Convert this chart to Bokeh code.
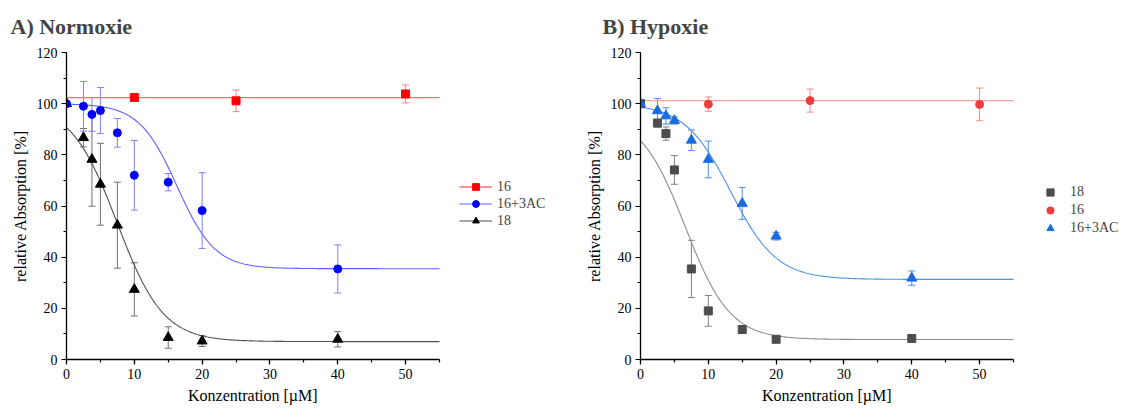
import numpy as np
from bokeh.plotting import figure
from bokeh.models import (ColumnDataSource, Whisker, TeeHead, Legend, LegendItem,
                          SingleIntervalTicker, Range1d, Title)
from bokeh.layouts import row
from bokeh.embed import file_html
from bokeh.resources import INLINE

# ---------------- Panel A: Normoxie ----------------
A_x16 = [10, 25, 50]
A_y16 = [102.4, 101.1, 103.8]
A_e16 = [0.6, 4.2, 3.5]

A_x16ac = [0, 2.5, 3.75, 5, 7.5, 10, 15, 20, 40]
A_y16ac = [100.0, 99.0, 95.8, 97.3, 88.6, 72.0, 69.3, 58.2, 35.4]
A_e16ac = [0, 9.7, 6.6, 9.0, 5.6, 13.6, 3.4, 14.8, 9.4]

A_x18 = [0, 2.5, 3.75, 5, 7.5, 10, 15, 20, 40]
A_y18 = [100.0, 86.7, 78.2, 68.5, 52.5, 27.4, 8.6, 7.2, 7.9]
A_e18 = [0, 3.6, 18.3, 16.0, 16.8, 10.4, 4.2, 2.1, 3.0]

# fitted curves (Boltzmann): top, bottom, x0, dx ; constant fit for 16
A_fit16_level = 102.4
A_fit16ac = [100.0, 35.5, 16.3, 2.8]
A_fit18 = [100.0, 7.0, 7.46, 3.4]

# ---------------- Panel B: Hypoxie ----------------
B_x18 = [0, 2.5, 3.75, 5, 7.5, 10, 15, 20, 40]
B_y18 = [100.0, 92.4, 88.3, 74.1, 35.4, 19.0, 11.7, 7.9, 8.2]
B_e18 = [0, 1.5, 2.6, 5.6, 11.2, 6.0, 1.5, 0.8, 1.2]

B_x16 = [10, 25, 50]
B_y16 = [99.8, 101.2, 99.7]
B_e16 = [2.8, 4.5, 6.4]

B_x16ac = [0, 2.5, 3.75, 5, 7.5, 10, 15, 20, 40]
B_y16ac = [100.0, 97.2, 95.2, 93.4, 85.7, 78.2, 61.0, 48.2, 31.8]
B_e16ac = [0, 4.8, 3.2, 1.4, 4.0, 7.2, 6.2, 1.5, 2.8]

B_fit16_level = 101.2
B_fit18 = [96.0, 7.8, 6.6, 3.3]
B_fit16ac = [100.0, 31.3, 13.3, 3.4]

X_MAX = 55
Y_MAX = 120
X_LABEL = "Konzentration [µM]"
Y_LABEL = "relative Absorption [%]"
FONT = "Liberation Serif"
XFIT = np.linspace(0, X_MAX, 400)
AXIS_W = 373          # pixel length of the drawn x axis (0..55)


def boltzmann(x, params):
    top, bottom, x0, dx = params
    return bottom + (top - bottom) / (1.0 + np.exp((x - x0) / dx))


def make_fig(width, bl, title, title_offset):
    # the frame extends to the right edge so the legend (drawn in the frame) is not clipped;
    # the x axis itself is bounded to 0..55
    frame_w = width - bl
    x_end = X_MAX * frame_w / AXIS_W
    p = figure(width=width, height=411, x_range=Range1d(0, x_end), y_range=Range1d(0, Y_MAX),
               output_backend="svg", toolbar_location=None,
               min_border_left=bl, min_border_right=0, min_border_top=52, min_border_bottom=52)
    p.title.text = title
    p.title.text_font = FONT
    p.title.text_font_size = "22px"
    p.title.text_font_style = "bold"
    p.title.align = "left"
    p.title.offset = title_offset
    p.title.vertical_align = "top"
    p.title.standoff = 23
    p.outline_line_color = None
    p.grid.visible = False
    p.background_fill_color = "white"
    p.border_fill_color = "white"
    p.xaxis.ticker = SingleIntervalTicker(interval=10, num_minor_ticks=2)
    p.yaxis.ticker = SingleIntervalTicker(interval=20, num_minor_ticks=2)
    p.xaxis.bounds = (0, X_MAX)
    for ax in (p.xaxis, p.yaxis):
        ax.axis_line_color = "black"
        ax.axis_line_width = 1.3
        ax.major_tick_line_color = "black"
        ax.minor_tick_line_color = "black"
        ax.major_tick_line_width = 1.2
        ax.minor_tick_line_width = 1.2
        ax.major_tick_out = 5
        ax.major_tick_in = 0
        ax.minor_tick_out = 3
        ax.minor_tick_in = 0
        ax.major_label_text_font = FONT
        ax.major_label_text_font_size = "14px"
        ax.major_label_text_color = "black"
        ax.axis_label_text_font = FONT
        ax.axis_label_text_font_size = "16px"
        ax.axis_label_text_font_style = "normal"
        ax.axis_label_text_color = "black"
        ax.major_label_standoff = 4
    p.yaxis.axis_label = Y_LABEL
    p.yaxis.axis_label_standoff = 5
    # x axis label centred under the bounded axis (0..55)
    xl = Title(text=X_LABEL, align="left", offset=AXIS_W / 2 - 65, vertical_align="bottom",
               standoff=6, text_font=FONT, text_font_size="16px", text_font_style="normal",
               text_color="black")
    p.add_layout(xl, "below")
    return p


def add_series(p, xs, ys, es, marker, color, size, err_color):
    xe = [x for x, e in zip(xs, es) if e > 0]
    ye = [y for y, e in zip(ys, es) if e > 0]
    ee = [e for e in es if e > 0]
    src_e = ColumnDataSource(dict(x=xe, upper=[y + e for y, e in zip(ye, ee)],
                                  lower=[y - e for y, e in zip(ye, ee)]))
    w = Whisker(source=src_e, base="x", upper="upper", lower="lower", dimension="height",
                line_color=err_color, line_width=1, level="underlay",
                upper_head=TeeHead(size=7, line_color=err_color, line_width=1),
                lower_head=TeeHead(size=7, line_color=err_color, line_width=1))
    p.add_layout(w)
    src = ColumnDataSource(dict(x=xs, y=ys))
    return p.scatter("x", "y", source=src, marker=marker, size=size,
                     fill_color=color, line_color=color)


A_W = 582
# ---------------- figure A ----------------
pA = make_fig(A_W, 66, "A) Normoxie", -56)

fA16 = pA.line(XFIT, np.full_like(XFIT, A_fit16_level), line_color="#F07272", line_width=1.3)
fA16ac = pA.line(XFIT, boltzmann(XFIT, A_fit16ac), line_color="#6060FF", line_width=1.1)
fA18 = pA.line(XFIT, boltzmann(XFIT, A_fit18), line_color="#505050", line_width=1.1)

rA18 = add_series(pA, A_x18, A_y18, A_e18, "triangle", "black", 10, "#707070")
rA16ac = add_series(pA, A_x16ac, A_y16ac, A_e16ac, "circle", "#0000FF", 8, "#8080FF")
rA16 = add_series(pA, A_x16, A_y16, A_e16, "square", "#FF0000", 8, "#FF8080")

legA = Legend(items=[LegendItem(label="16", renderers=[fA16, rA16]),
                     LegendItem(label="16+3AC", renderers=[fA16ac, rA16ac]),
                     LegendItem(label="18", renderers=[fA18, rA18])],
              location=(AXIS_W + 20, 130), border_line_color=None, background_fill_alpha=0,
              padding=0, margin=0, spacing=0, label_height=17, glyph_height=17,
              glyph_width=33, label_standoff=5,
              label_text_font=FONT, label_text_font_size="14px")
pA.add_layout(legA, "center")

# ---------------- figure B ----------------
pB = make_fig(1125 - A_W, 58, "B) Hypoxie", -38)

pB.line(XFIT, np.full_like(XFIT, B_fit16_level), line_color="#FFA0A0", line_width=1.3)
pB.line(XFIT, boltzmann(XFIT, B_fit16ac), line_color="#4A90E8", line_width=1.1)
pB.line(XFIT, boltzmann(XFIT, B_fit18), line_color="#8C8C8C", line_width=1.1)

rB18 = add_series(pB, B_x18, B_y18, B_e18, "square", "#4D4D4D", 8, "#808080")
rB16ac = add_series(pB, B_x16ac, B_y16ac, B_e16ac, "triangle", "#1A6AE0", 10, "#4D8FE6")
rB16 = add_series(pB, B_x16, B_y16, B_e16, "circle", "#F03C3C", 8, "#F58A8A")

legB = Legend(items=[LegendItem(label="18", renderers=[rB18]),
                     LegendItem(label="16", renderers=[rB16]),
                     LegendItem(label="16+3AC", renderers=[rB16ac])],
              location=(AXIS_W + 28, 122), border_line_color=None, background_fill_alpha=0,
              padding=0, margin=0, spacing=0, label_height=18, glyph_height=18,
              glyph_width=18, label_standoff=11,
              label_text_font=FONT, label_text_font_size="14px")
pB.add_layout(legB, "center")

layout = row(pA, pB)
open("out.html", "w").write(file_html(layout, INLINE))
